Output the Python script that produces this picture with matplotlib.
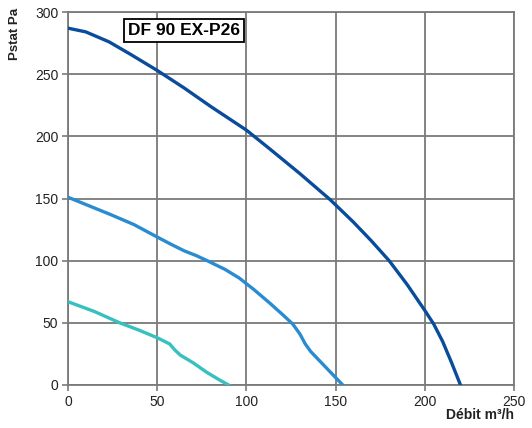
import numpy as np
import matplotlib
matplotlib.use("Agg")
import matplotlib.pyplot as plt

plt.rcParams['font.family'] = ['Liberation Sans', 'DejaVu Sans']

debit_haut = [0, 10, 23, 35, 50, 65, 80, 100, 113, 130, 147, 160, 170, 180, 190, 200, 205, 210, 215, 220]
press_haut = [287, 284, 276, 266, 253, 239, 224, 205, 190, 170, 149, 131, 116, 100, 81, 60, 49, 35, 18, 0]

debit_moy = [0, 12, 24, 37, 50, 58, 65, 72, 78, 88, 96, 104, 113, 120, 126, 130, 133, 136, 144, 154]
press_moy = [151, 144, 137, 129, 119, 113, 108, 104, 100, 93, 86, 77, 66, 57, 49, 41, 33, 27, 15, 0]

debit_bas = [0, 15, 29, 40, 50, 57, 60, 63, 70, 78, 85, 90]
press_bas = [67, 59, 50, 44, 38, 33, 28, 24, 18, 10, 4, 0]

titre = "DF 90 EX-P26"

fig = plt.figure(figsize=(5.32, 4.28), dpi=100)
ax = fig.add_axes([68/532, 43/428, 446/532, 373/428])

ax.plot(debit_haut, press_haut, color="#0a4c9c", lw=2.4, zorder=3)
ax.plot(debit_moy, press_moy, color="#2a8cd0", lw=2.4, zorder=3)
ax.plot(debit_bas, press_bas, color="#36c0bf", lw=2.4, zorder=3)

ax.set_xlim(0, 250)
ax.set_ylim(0, 300)
ax.set_xticks(np.arange(0, 251, 50))
ax.set_yticks(np.arange(0, 301, 50))
ax.grid(True, color="#7a7a7a", lw=1.3)
for s in ax.spines.values():
    s.set_color("#7a7a7a")
    s.set_linewidth(1.3)
ax.tick_params(direction="out", length=4, width=1.2, color="#7a7a7a",
               labelsize=10, labelcolor="#222222", pad=3)

ax.text(65, 285, titre, ha="center", va="center", fontsize=12.5, fontweight="bold",
        bbox=dict(boxstyle="square,pad=0.25", fc="white", ec="black", lw=1.3), zorder=4)

fig.text(15/532, 1 - 8/428, "Pstat Pa", rotation=90, ha="center", va="top",
         fontsize=9.5, fontweight="bold", color="#222222")
fig.text(514/532, 13/428, "Débit m³/h", ha="right", va="center",
         fontsize=10, fontweight="bold", color="#222222")

fig.savefig("out.png", dpi=100)
